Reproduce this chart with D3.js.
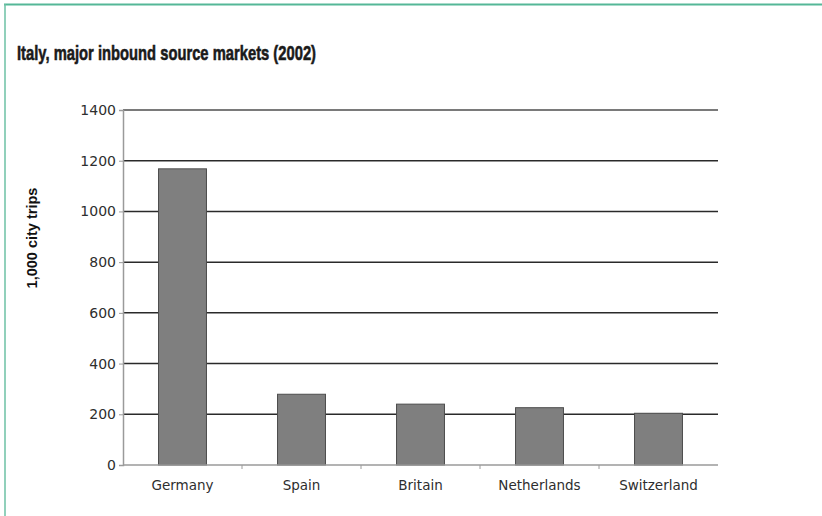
<!DOCTYPE html>
<html>
<head>
<meta charset="utf-8">
<script src="https://cdnjs.cloudflare.com/ajax/libs/d3/7.8.5/d3.min.js"></script>
<style>
  html, body { margin: 0; padding: 0; background: #fff; }
  svg { display: block; }
</style>
</head>
<body>
<svg id="chart" width="822" height="516"></svg>
<script>
// Italy: major inbound source markets, 2002 (thousand city trips)
const categories = ["Germany", "Spain", "Britain", "Netherlands", "Switzerland"];
const cityTrips = [1168, 279, 240, 226, 204];
const yTicks = [0, 200, 400, 600, 800, 1000, 1200, 1400];

const title = "Italy, major inbound source markets (2002)";
const yLabel = "1,000 city trips";

const svg = d3.select("#chart");
const W = 822, H = 516;
const plot = { left: 123, right: 718, top: 110, bottom: 465 };

// Frame accent lines (top and left)
svg.append("line")
  .attr("x1", 4).attr("x2", W).attr("y1", 4.5).attr("y2", 4.5)
  .attr("stroke", "#55b797").attr("stroke-width", 2);
svg.append("line")
  .attr("x1", 5).attr("x2", 5).attr("y1", 4).attr("y2", H)
  .attr("stroke", "#6cc1a4").attr("stroke-width", 1.5);

// Title
svg.append("text")
  .attr("x", 17).attr("y", 59.5)
  .attr("font-family", "'Liberation Sans Narrow', 'Liberation Sans', Arial, sans-serif")
  .attr("font-weight", "bold")
  .attr("font-size", 21)
  .attr("fill", "#1a1a1a")
  .attr("stroke", "#1a1a1a")
  .attr("stroke-width", 0.6)
  .attr("textLength", 299)
  .attr("lengthAdjust", "spacingAndGlyphs")
  .text(title);

const x = d3.scaleBand()
  .domain(categories)
  .range([plot.left, plot.right])
  .paddingInner(0.597)
  .paddingOuter(0.2985);

const y = d3.scaleLinear()
  .domain([0, 1400])
  .range([plot.bottom, plot.top]);

// Horizontal gridlines
svg.append("g")
  .selectAll("line")
  .data(yTicks.filter(t => t > 0))
  .join("line")
  .attr("x1", plot.left).attr("x2", plot.right)
  .attr("y1", d => y(d)).attr("y2", d => y(d))
  .attr("stroke", d => d === 1400 ? "#7a7a7a" : "#2a2a2a")
  .attr("stroke-width", d => d === 1400 ? 2 : 1.5);

// Y axis
const yAxis = svg.append("g")
  .attr("transform", `translate(${plot.left},0)`)
  .call(d3.axisLeft(y).tickValues(yTicks).tickSize(4).tickPadding(3).tickFormat(d3.format("d")));
yAxis.select(".domain").attr("stroke", "#9a9a9a").attr("stroke-width", 1.5);
yAxis.selectAll(".tick line").attr("stroke", "#9a9a9a");
yAxis.selectAll(".tick text")
  .attr("font-family", "'DejaVu Sans', Verdana, sans-serif")
  .attr("font-size", 14)
  .attr("fill", "#2e2e2e");

// Bars
svg.append("g")
  .selectAll("rect")
  .data(categories.map((c, i) => ({ c, v: cityTrips[i] })))
  .join("rect")
  .attr("x", d => x(d.c))
  .attr("y", d => y(d.v))
  .attr("width", x.bandwidth())
  .attr("height", d => y(0) - y(d.v))
  .attr("fill", "#7f7f7f")
  .attr("stroke", "#4d4d4d")
  .attr("stroke-width", 1);

// X axis baseline and category separators
svg.append("line")
  .attr("x1", plot.left).attr("x2", plot.right)
  .attr("y1", y(0)).attr("y2", y(0))
  .attr("stroke", "#9a9a9a").attr("stroke-width", 1.5);

const step = x.step();
svg.append("g")
  .selectAll("line")
  .data(categories.slice(1))
  .join("line")
  .attr("x1", d => x(d) - step * 0.2985)
  .attr("x2", d => x(d) - step * 0.2985)
  .attr("y1", y(0)).attr("y2", y(0) + 4)
  .attr("stroke", "#9a9a9a").attr("stroke-width", 1);

// Category labels
svg.append("g")
  .selectAll("text")
  .data(categories)
  .join("text")
  .attr("x", d => x(d) + x.bandwidth() / 2)
  .attr("y", 490)
  .attr("text-anchor", "middle")
  .attr("font-family", "'DejaVu Sans', Verdana, sans-serif")
  .attr("font-size", 13.5)
  .attr("fill", "#2e2e2e")
  .text(d => d);

// Y axis title
svg.append("text")
  .attr("transform", `translate(37,238) rotate(-90)`)
  .attr("text-anchor", "middle")
  .attr("font-family", "'Liberation Sans', Arial, sans-serif")
  .attr("font-weight", "bold")
  .attr("font-size", 14.5)
  .attr("fill", "#111")
  .text(yLabel);
</script>
</body>
</html>
